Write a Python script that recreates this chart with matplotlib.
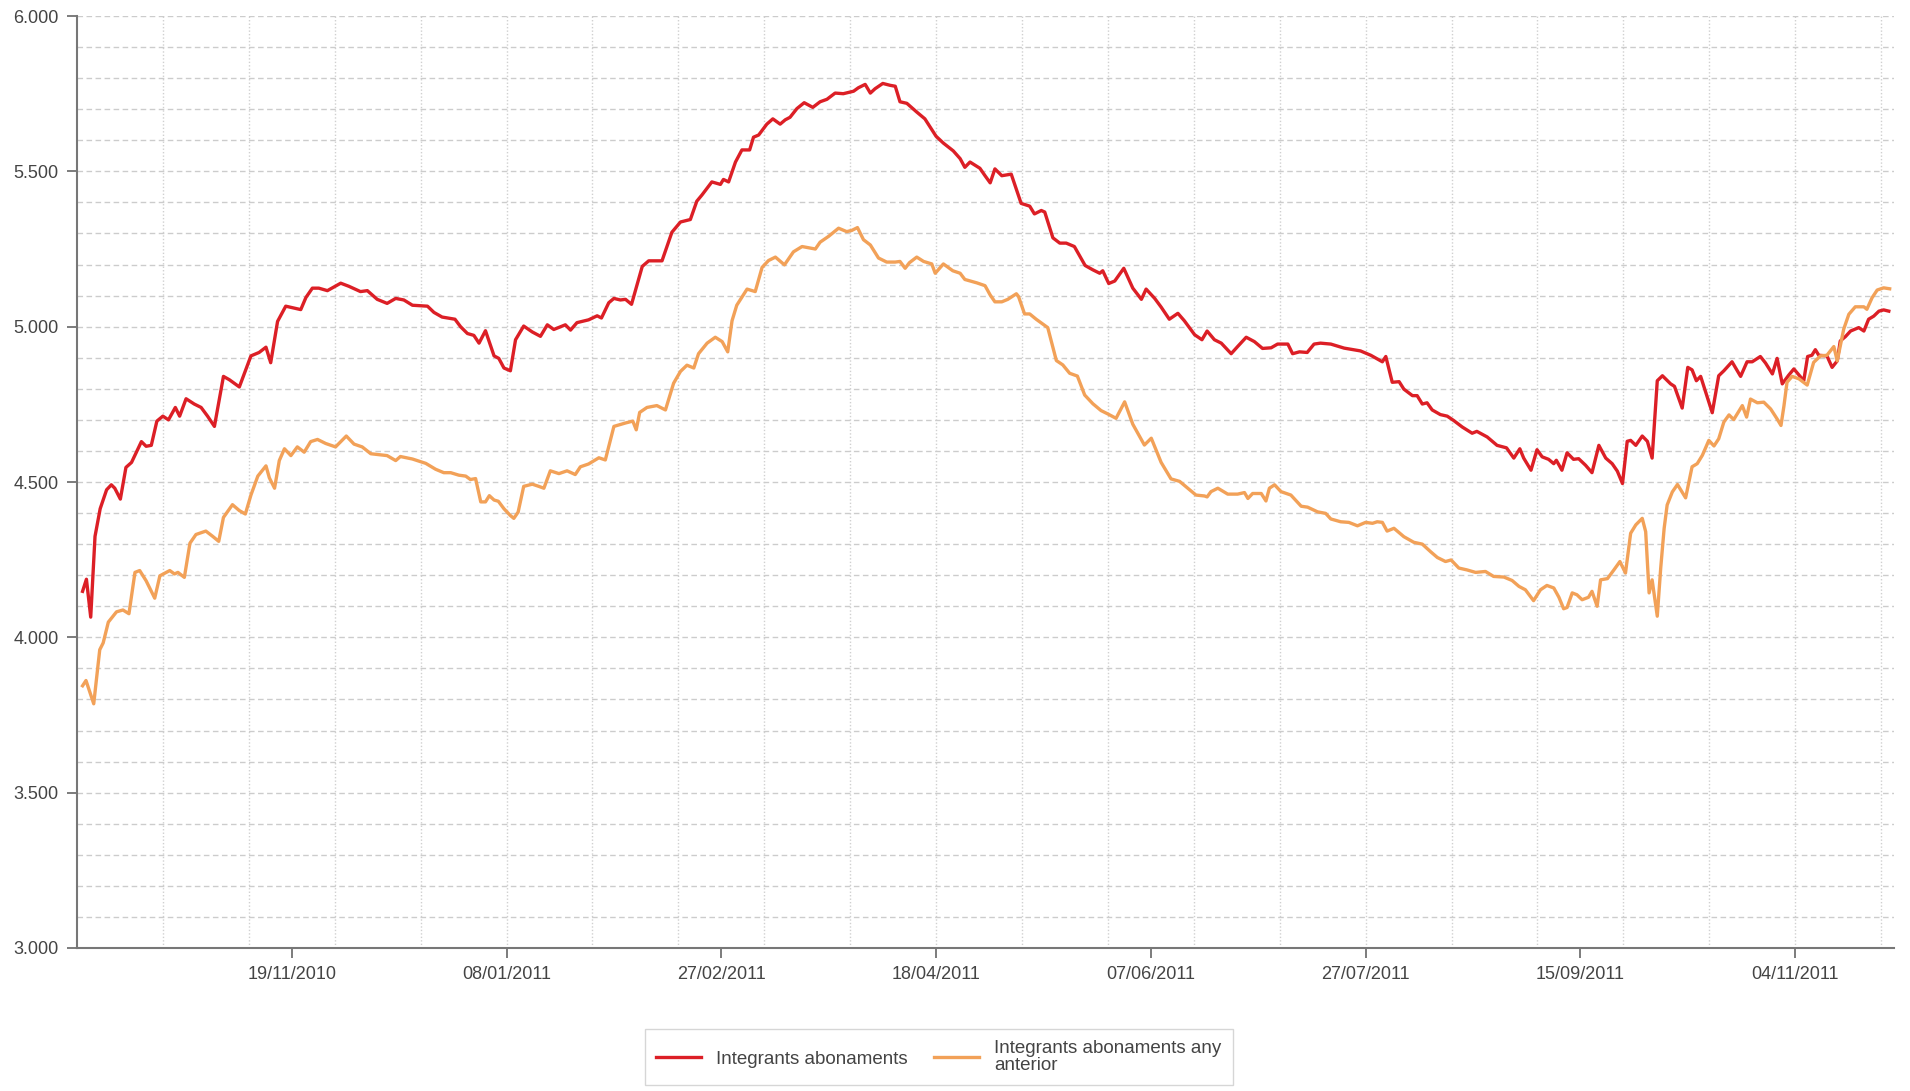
import numpy as np
import matplotlib
matplotlib.use("Agg")
import matplotlib.pyplot as plt
import matplotlib.dates as mdates
from matplotlib.ticker import FuncFormatter, MultipleLocator

plt.rcParams['font.family'] = ['Liberation Sans', 'DejaVu Sans']

# dies des del 30/09/2010
start = mdates.date2num(np.datetime64('2010-09-30'))

red_days = [1.3, 2.2, 3.2, 4.2, 5.4, 6.9, 8.0, 8.8, 10.1, 11.4, 12.7, 15.0, 16.1, 17.3, 18.6, 20.0,
            21.3, 22.9, 23.9, 25.4, 27.3, 28.9, 30.4, 32.0, 34.1, 35.5, 37.8, 40.5, 42.4, 44.0, 45.1,
            46.7, 48.6, 50.2, 52.1, 53.3, 54.8, 56.3, 58.3, 61.4, 63.3, 66.0, 67.6, 69.9,
            72.2, 74.2, 76.1, 78.1, 81.6, 83.1, 85.0, 88.0, 89.3, 90.9, 92.4, 93.6, 95.1, 97.1, 98.2,
            99.4, 100.9, 102.1, 104.0, 106.0, 107.9, 109.5, 111.0, 112.6, 113.7, 114.9, 116.4, 119.1,
            121.1, 122.1, 123.8, 125.0, 126.5, 127.7, 129.1, 131.6, 133.1, 136.2, 138.5, 140.5, 142.8,
            144.3, 145.5, 147.8, 149.8, 150.5, 151.7, 153.3, 154.8, 156.6, 157.5, 158.7, 160.6, 162.0,
            163.7, 164.9, 166.0, 167.6, 169.3, 171.3, 173.0, 174.6, 176.5, 178.4, 180.8, 181.9, 183.5,
            184.7, 185.8, 187.6, 189.3, 190.5, 191.6, 193.2, 195.5, 197.4, 200.0, 201.7, 204.0, 205.6,
            206.7, 207.9, 210.2, 211.4, 212.6, 213.7, 215.3, 217.5, 219.8, 221.8, 222.9, 224.5, 225.3,
            227.2, 228.8, 230.3, 232.2, 234.7, 236.5, 238.1, 238.8, 240.2, 241.6, 243.7, 245.8, 247.8,
            248.9, 250.9, 252.4, 254.3, 256.3, 257.8, 260.2, 261.9, 263.1, 264.8, 266.4, 268.7, 270.2,
            272.2, 274.1, 276.0, 278.0, 279.5, 281.9, 283.0, 284.6, 286.4, 288.0, 289.5, 291.9, 295.0,
            298.8, 301.2, 303.9, 304.7, 306.2, 307.8, 308.9, 310.9, 312.0, 313.2, 314.3, 315.5, 317.4,
            319.0, 320.5, 322.5, 324.8, 325.9, 328.3, 330.6, 332.8, 334.5, 335.9, 336.8, 338.5, 339.9,
            341.1, 342.6, 343.8, 344.4, 345.7, 346.9, 348.4, 349.6, 351.2, 352.7, 354.3, 355.9, 357.4,
            358.6, 359.8, 360.9, 361.7, 362.9, 364.4, 365.6, 366.7, 367.9, 369.1, 371.0, 371.9, 373.7,
            375.0, 376.0, 377.0, 378.0, 380.7, 382.2, 383.4, 385.3, 387.3, 388.8, 390.0, 391.9, 393.1,
            394.7, 395.8, 397.0, 398.5, 399.7, 402.0, 402.9, 403.9, 404.7, 405.5, 407.4, 408.6, 409.8,
            410.5, 411.7, 412.9, 414.8, 416.0, 417.1, 418.3, 419.5, 420.6, 421.8]
red_vals = [4148, 4187, 4065, 4325, 4414, 4475, 4491, 4480, 4445, 4547, 4563, 4630, 4615, 4618, 4696, 4712,
            4700, 4740, 4712, 4768, 4751, 4740, 4712, 4679, 4840, 4829, 4806, 4906, 4917, 4934, 4884,
            5017, 5066, 5061, 5055, 5094, 5124, 5124, 5116, 5140, 5130, 5113, 5116, 5088,
            5075, 5091, 5086, 5069, 5066, 5046, 5031, 5024, 5000, 4978, 4972, 4947, 4987, 4906, 4898,
            4867, 4858, 4958, 5002, 4983, 4969, 5006, 4991, 5000, 5006, 4989, 5013, 5022,
            5035, 5028, 5077, 5091, 5086, 5088, 5072, 5194, 5212, 5212, 5304, 5337, 5345,
            5404, 5424, 5466, 5458, 5474, 5466, 5530, 5569, 5569, 5610, 5617, 5652, 5669,
            5652, 5666, 5674, 5702, 5721, 5706, 5724, 5732, 5752, 5750, 5758, 5769, 5780,
            5752, 5766, 5783, 5777, 5774, 5724, 5719, 5691, 5669, 5613, 5591, 5566, 5541,
            5513, 5530, 5510, 5486, 5463, 5508, 5486, 5491, 5397, 5388, 5363, 5374, 5369,
            5286, 5269, 5269, 5258, 5197, 5183, 5172, 5180, 5139, 5147, 5188, 5124, 5088,
            5121, 5091, 5063, 5024, 5043, 5019, 4974, 4958, 4986, 4958, 4947, 4913, 4936,
            4966, 4952, 4930, 4932, 4944, 4944, 4913, 4919, 4917, 4944, 4947, 4944, 4931,
            4922, 4908, 4887, 4904, 4821, 4823, 4799, 4778, 4778, 4751, 4755, 4732, 4717,
            4712, 4698, 4677, 4657, 4663, 4645, 4618, 4610, 4577, 4607, 4577, 4538, 4604,
            4581, 4573, 4559, 4570, 4538, 4594, 4573, 4575, 4554, 4530, 4618, 4577, 4559,
            4535, 4495, 4631, 4634, 4618, 4648, 4631, 4577, 4826, 4842, 4816, 4808, 4738,
            4869, 4861, 4826, 4840, 4723, 4842, 4858, 4887, 4840, 4887, 4887, 4904, 4883,
            4848, 4898, 4816, 4844, 4864, 4826, 4904, 4908, 4926, 4908, 4906, 4869, 4890,
            4954, 4968, 4986, 4997, 4986, 5024, 5034, 5050, 5054, 5050]

orange_days = [1.3, 2.1, 3.9, 5.3, 6.1, 7.3, 9.2, 10.7, 12.1, 13.5, 14.6, 16.1, 18.1, 19.3, 21.6, 22.7,
               23.5, 25.0, 26.3, 27.7, 30.0, 31.6, 33.0, 34.1, 36.2, 37.8, 39.2, 40.5, 42.1, 44.0, 44.8,
               46.0, 47.1, 48.3, 49.8, 51.3, 52.9, 54.4, 56.0, 57.9, 60.2, 62.7, 64.5, 66.4, 68.4, 70.3,
               72.2, 74.2, 75.3, 78.1, 81.2, 83.5, 85.4, 87.0, 88.9, 90.5, 91.6, 92.8, 94.0, 95.1, 96.0,
               97.1, 98.1, 99.4, 100.9, 101.7, 102.7, 104.0, 106.0, 107.5, 108.7, 110.2, 112.2, 114.1,
               116.0, 117.2, 119.1, 121.5, 123.0, 125.0, 127.7, 129.4, 130.2, 131.0, 132.7, 135.0, 137.0,
               138.9, 140.5, 142.0, 143.6, 144.7, 146.7, 148.6, 150.2, 151.5, 152.5, 153.6, 156.0, 157.9,
               159.5, 161.0, 162.6, 164.7, 166.8, 168.8, 171.9, 173.0, 175.0, 177.3, 179.2, 180.4, 181.7,
               183.1, 184.7, 186.6, 188.5, 190.5, 191.6, 192.8, 193.8, 195.5, 197.1, 199.0, 199.8, 201.7,
               203.9, 205.6, 206.7, 209.5, 211.4, 212.6, 213.7, 215.3, 216.7, 218.7, 219.2, 220.6, 221.8,
               223.3, 226.0, 228.0, 229.5, 231.1, 232.9, 234.6, 236.5, 238.4, 240.0, 241.9, 243.9, 245.8,
               248.5, 250.1, 252.4, 254.7, 256.7, 258.6, 260.5, 262.5, 263.1, 264.0, 265.6, 267.9, 270.2,
               271.8, 272.6, 273.7, 275.7, 276.8, 277.6, 278.8, 280.3, 282.6, 285.0, 286.5, 288.8, 290.7,
               291.9, 294.2, 296.1, 298.1, 300.0, 301.6, 302.7, 303.9, 305.0, 306.6, 308.9, 311.2, 313.2,
               315.1, 316.7, 318.6, 319.9, 321.7, 323.6, 325.6, 327.9, 329.8, 332.2, 334.1, 335.7, 337.2,
               339.1, 340.7, 342.2, 343.8, 345.0, 346.1, 346.9, 348.1, 349.2, 350.4, 351.9, 352.7, 353.9,
               354.7, 356.3, 357.8, 359.2, 360.5, 361.7, 362.9, 364.4, 365.2, 366.0, 366.7, 367.9, 368.7,
               369.5, 370.2, 371.4, 372.6, 374.5, 376.0, 377.2, 378.4, 379.9, 381.1, 382.2, 383.4, 384.6,
               385.7, 387.7, 388.7, 389.6, 391.2, 392.7, 394.3, 395.8, 396.7, 397.4, 398.1, 399.3, 400.9,
               402.8, 404.3, 405.9, 407.4, 409.0, 409.8, 411.3, 412.5, 414.0, 416.0, 416.7, 417.9, 419.1,
               420.6, 422.0]
orange_vals = [3844, 3861, 3786, 3960, 3982, 4049, 4082, 4088, 4076, 4209, 4215, 4182, 4126, 4198, 4215, 4204,
               4209, 4193, 4303, 4331, 4342, 4325, 4309, 4386, 4427, 4408, 4397, 4458, 4519, 4552, 4513,
               4480, 4569, 4607, 4585, 4613, 4596, 4630, 4637, 4624, 4613, 4648, 4622, 4613, 4591, 4588,
               4585, 4569, 4582, 4574, 4560, 4541, 4530, 4530, 4522, 4519, 4508, 4511, 4436, 4436, 4456,
               4442, 4438, 4414, 4392, 4383, 4403, 4486, 4493, 4486, 4480, 4536, 4527, 4536,
               4524, 4549, 4558, 4578, 4571, 4679, 4690, 4696, 4668, 4724, 4740, 4746, 4732,
               4818, 4856, 4876, 4867, 4913, 4947, 4966, 4952, 4919, 5019, 5069, 5121, 5113,
               5191, 5213, 5224, 5199, 5241, 5258, 5250, 5272, 5291, 5317, 5306, 5310, 5319,
               5280, 5263, 5221, 5208, 5208, 5210, 5188, 5206, 5224, 5210, 5202, 5172, 5202,
               5180, 5172, 5152, 5141, 5132, 5102, 5080, 5080, 5088, 5106, 5097, 5041, 5041,
               5024, 4997, 4891, 4877, 4850, 4841, 4780, 4752, 4730, 4719, 4705, 4758, 4686,
               4619, 4641, 4563, 4510, 4502, 4480, 4458, 4455, 4452, 4469, 4480, 4461, 4461,
               4466, 4447, 4463, 4463, 4439, 4480, 4491, 4469, 4458, 4422, 4419, 4404, 4399,
               4381, 4372, 4370, 4359, 4370, 4367, 4372, 4370, 4342, 4351, 4324, 4306, 4300,
               4276, 4257, 4244, 4249, 4223, 4217, 4209, 4212, 4196, 4194, 4183, 4164, 4153,
               4118, 4153, 4167, 4159, 4129, 4092, 4096, 4143, 4137, 4121, 4129, 4148, 4100,
               4185, 4189, 4217, 4244, 4207, 4335, 4362, 4383, 4340, 4143, 4185, 4068, 4223,
               4351, 4426, 4468, 4492, 4449, 4549, 4559, 4586, 4634, 4616, 4639, 4693, 4716,
               4701, 4746, 4709, 4767, 4755, 4757, 4735, 4703, 4682, 4746, 4821, 4840, 4832,
               4812, 4885, 4906, 4908, 4936, 4890, 4992, 5040, 5064, 5064, 5056, 5093, 5118,
               5125, 5122]

fig = plt.figure(figsize=(19.1, 10.91), dpi=100)
ax = fig.add_axes([0.0403, 0.1311, 0.9513, 0.8542])

ax.plot(start + np.array(red_days), red_vals, color='#dc1f26', lw=2.4,
        label='Integrants abonaments', zorder=3)
ax.plot(start + np.array(orange_days), orange_vals, color='#f2a158', lw=2.4,
        label='Integrants abonaments any\nanterior', zorder=3)

ax.set_xlim(start, start + 423)
ax.set_ylim(3000, 6000)

# eix Y
ax.yaxis.set_major_locator(MultipleLocator(500))
ax.yaxis.set_minor_locator(MultipleLocator(100))
ax.yaxis.set_major_formatter(FuncFormatter(lambda v, p: f"{v:,.0f}".replace(",", ".")))
ax.grid(axis='y', which='both', color='#cccccc', linestyle=(0, (4, 2.5)), lw=1)

# eix X: etiquetes cada 50 dies, graella cada 20 dies
ax.set_xticks([start + d for d in range(50, 424, 50)])
ax.xaxis.set_major_formatter(mdates.DateFormatter('%d/%m/%Y'))
for d in range(20, 424, 20):
    ax.axvline(start + d, color='#d0d0d0', linestyle=(0, (1, 1.5)), lw=1, zorder=0)

ax.tick_params(which='major', length=7, width=1.2, color='#666666', labelsize=13,
               labelcolor='#444444', pad=6)
ax.tick_params(which='minor', length=0)
for s in ['top', 'right']:
    ax.spines[s].set_visible(False)
for s in ['left', 'bottom']:
    ax.spines[s].set_color('#777777')
    ax.spines[s].set_linewidth(1.5)

leg = fig.legend(loc='upper center', bbox_to_anchor=(0.4915, 0.057), ncol=2, fontsize=13.5,
                 frameon=True, fancybox=False, edgecolor='#cccccc', handlelength=2.4,
                 handletextpad=0.8, columnspacing=1.4, borderpad=0.6, borderaxespad=0,
                 labelspacing=0.1)
leg.get_frame().set_linewidth(1)
for t in leg.get_texts():
    t.set_color('#444444')
    t.set_linespacing(1.0)

fig.savefig('out.png', dpi=100)
